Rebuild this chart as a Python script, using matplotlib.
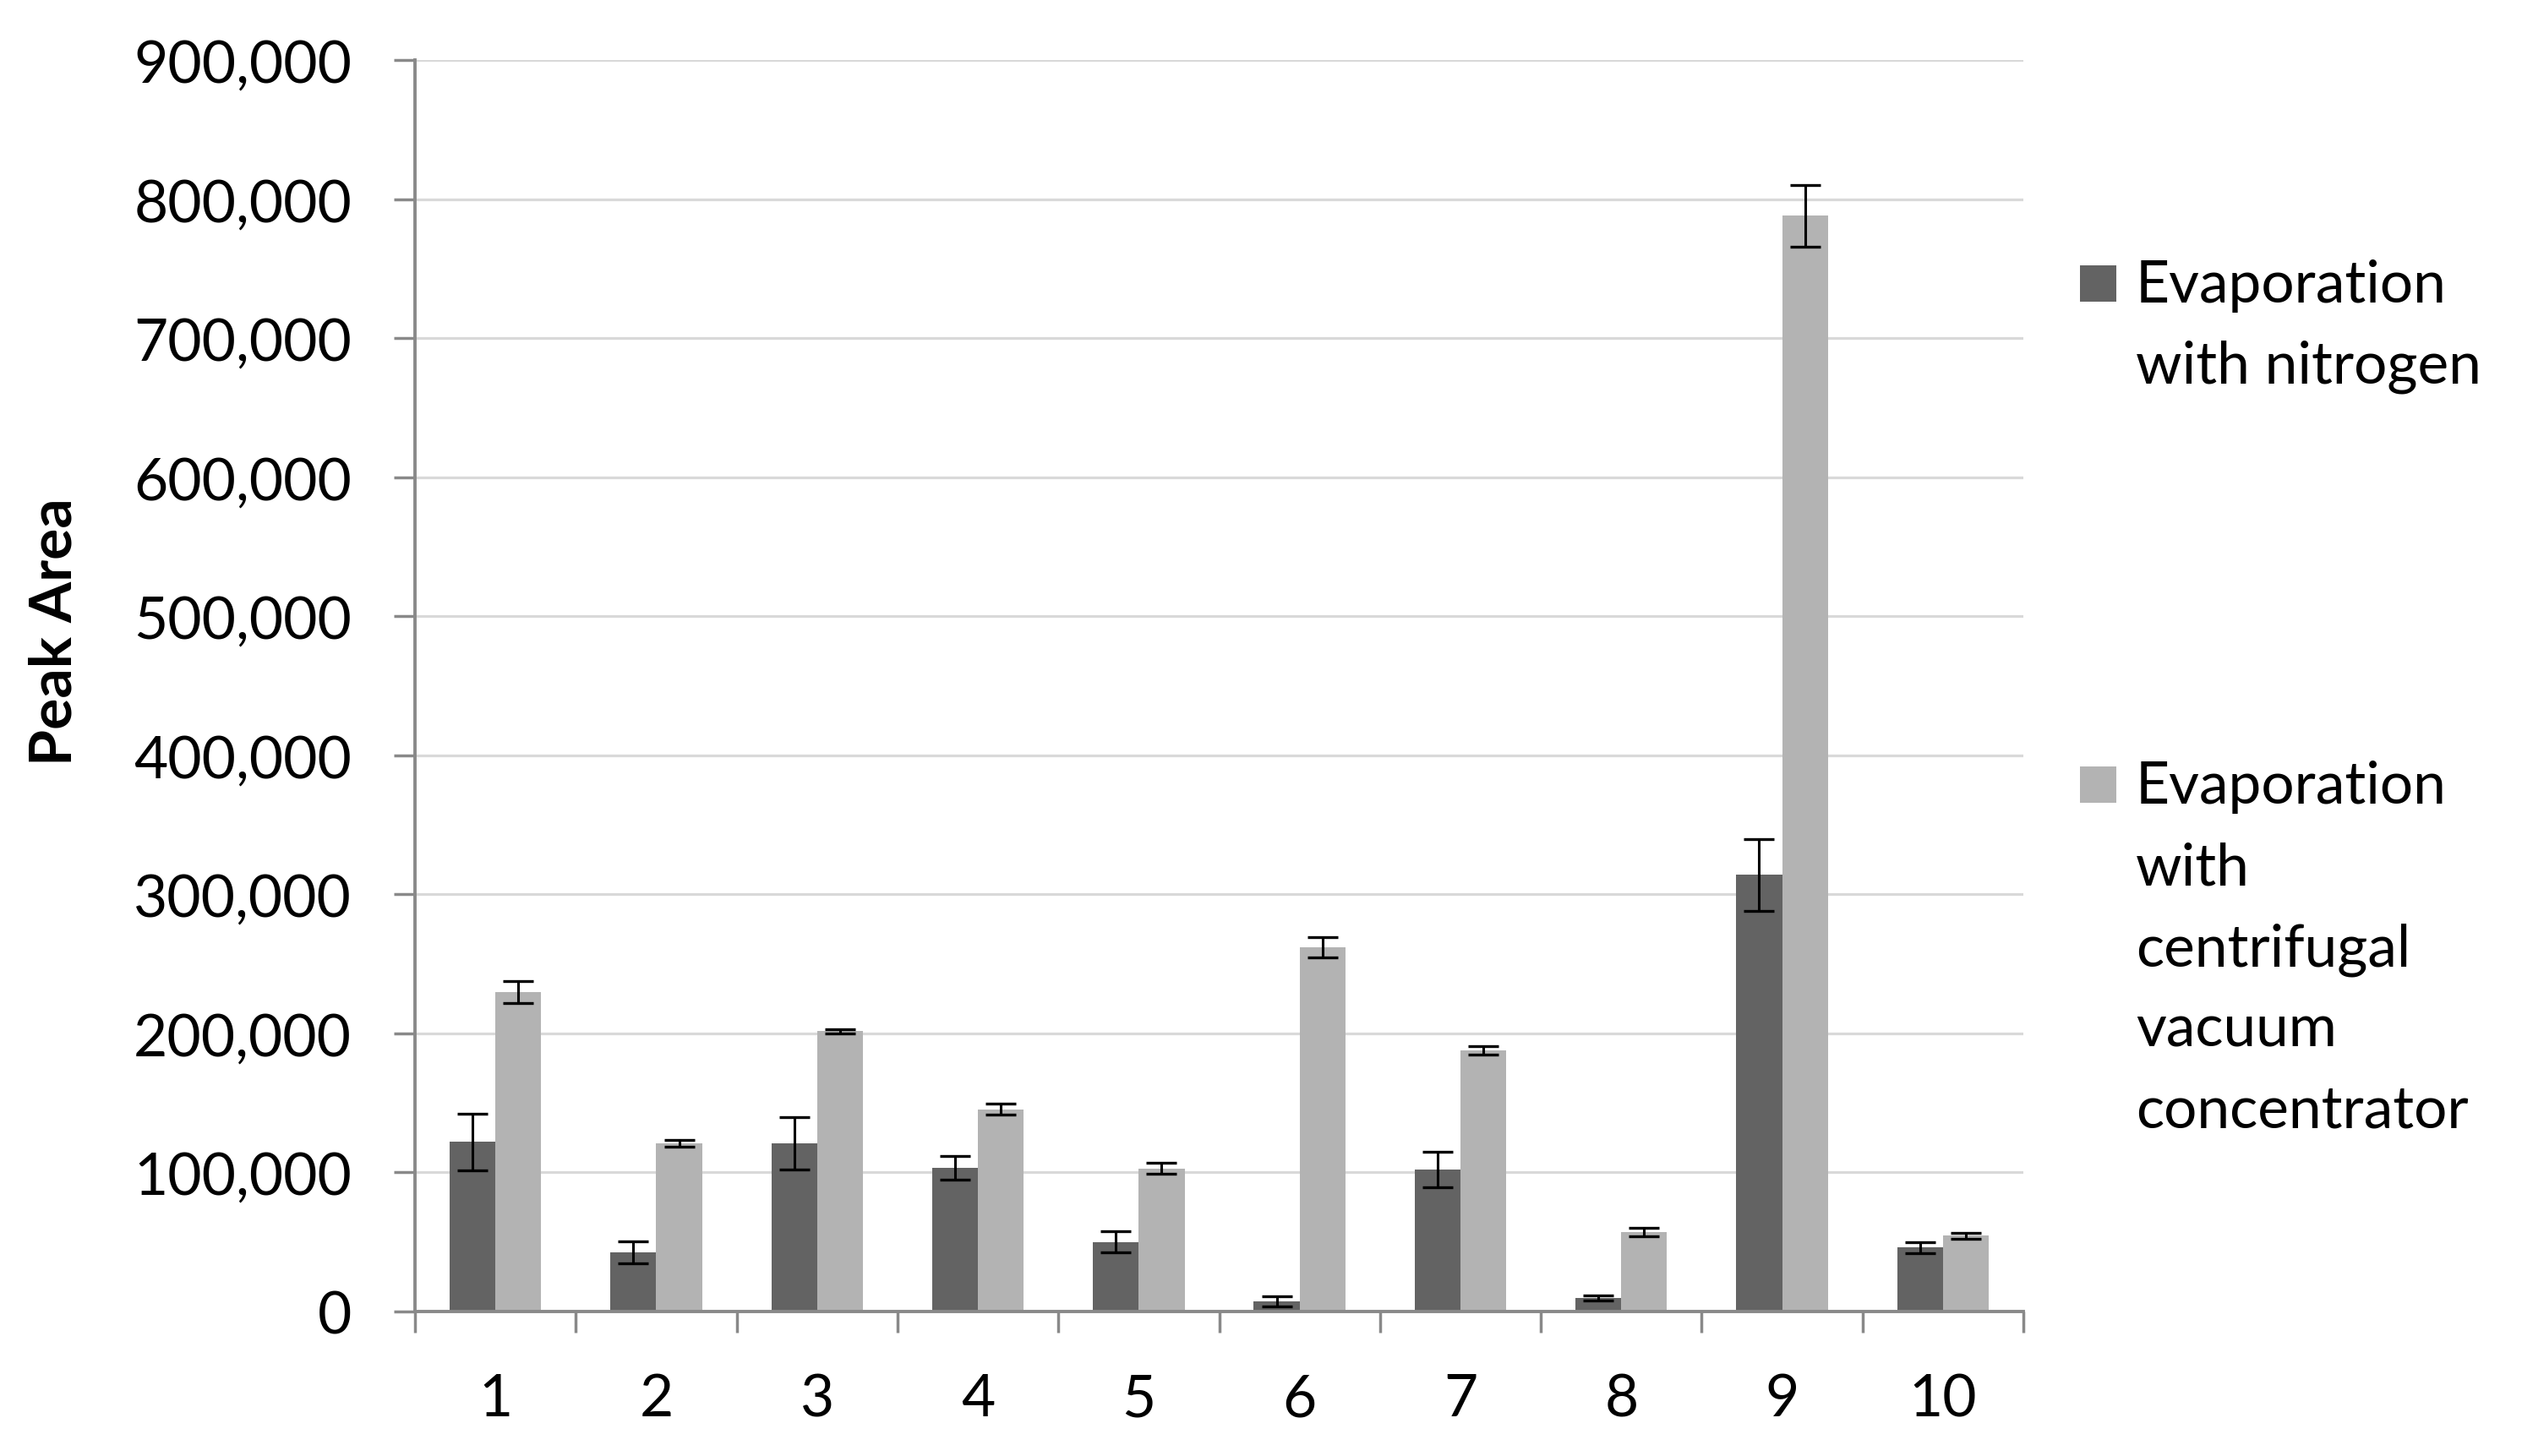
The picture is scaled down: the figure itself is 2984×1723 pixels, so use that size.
import matplotlib
matplotlib.use("Agg")
import matplotlib.pyplot as plt
import numpy as np
from matplotlib.patches import Rectangle
from matplotlib.ticker import FuncFormatter, FixedLocator

plt.rcParams["font.family"] = ["Lato", "DejaVu Sans"]

# data
categories = ["1", "2", "3", "4", "5", "6", "7", "8", "9", "10"]
nitrogen = [122000, 42500, 121000, 103500, 50000, 7300, 102000, 9700, 314000, 46000]
nitrogen_err = [20400, 8100, 19000, 8600, 7700, 3900, 12600, 1900, 25700, 4000]
centrifugal = [230000, 121000, 201500, 145500, 103000, 262000, 188000, 57000, 788000, 54500]
centrifugal_err = [7900, 2200, 1600, 4200, 4200, 7200, 3100, 3000, 22300, 2200]
legend_lines = [
    ["Evaporation", "with nitrogen"],
    ["Evaporation", "with", "centrifugal", "vacuum", "concentrator"],
]
y_ticks = list(range(0, 900001, 100000))

DARK = "#636363"
LIGHT = "#b3b3b3"
AXIS = "#898989"
GRID = "#d9d9d9"

W, H = 2984, 1724
fig = plt.figure(figsize=(W / 100, H / 100), dpi=100)
ax = fig.add_axes([491 / W, 1 - 1553 / H, (2394 - 491) / W, (1553 - 72) / H])

x = np.arange(len(categories))
bw = 0.285
err_kw = dict(ecolor="black", elinewidth=2.2, capsize=13, capthick=2.4)
ax.bar(x - bw / 2, nitrogen, bw, yerr=nitrogen_err, color=DARK, error_kw=err_kw, zorder=3)
ax.bar(x + bw / 2, centrifugal, bw, yerr=centrifugal_err, color=LIGHT, error_kw=err_kw, zorder=3)

ax.set_xlim(-0.5, len(categories) - 0.5)
ax.set_ylim(0, 900000)

# y axis
ax.set_yticks(y_ticks)
ax.yaxis.set_major_formatter(FuncFormatter(lambda v, p: f"{int(v):,}"))
ax.tick_params(axis="y", direction="out", length=18, width=2.5, color=AXIS,
               labelsize=50, pad=36)
ax.grid(axis="y", color=GRID, linewidth=2.3, zorder=0)

# x axis: ticks between groups, labels centred under groups
ax.xaxis.set_major_locator(FixedLocator(np.arange(-0.5, len(categories), 1.0)))
ax.xaxis.set_minor_locator(FixedLocator(x))
ax.set_xticklabels([])
ax.set_xticklabels(categories, minor=True)
ax.tick_params(axis="x", which="major", direction="out", length=18, width=2.5, color=AXIS)
ax.tick_params(axis="x", which="minor", length=0, labelsize=50, pad=52)

for side in ("top", "right"):
    ax.spines[side].set_visible(False)
for side in ("left", "bottom"):
    ax.spines[side].set_color(AXIS)
    ax.spines[side].set_linewidth(2.8)
    ax.spines[side].set_zorder(4)

fig.text(65 / W, 1 - 748 / H, "Peak Area", rotation=90, fontsize=50,
         fontweight="bold", ha="center", va="center")

# legend drawn by hand to mimic the spreadsheet layout
first_baselines = [358, 951]
line_step = 96
for lines, base, color in zip(legend_lines, first_baselines, [DARK, LIGHT]):
    fig.patches.append(Rectangle((2461 / W, 1 - base / H), 43 / W, 43 / H,
                                 transform=fig.transFigure, facecolor=color,
                                 edgecolor="none"))
    for i, line in enumerate(lines):
        fig.text(2527 / W, 1 - (base + i * line_step) / H, line, fontsize=50,
                 ha="left", va="baseline")

fig.savefig("out.png", dpi=100, facecolor="white")
